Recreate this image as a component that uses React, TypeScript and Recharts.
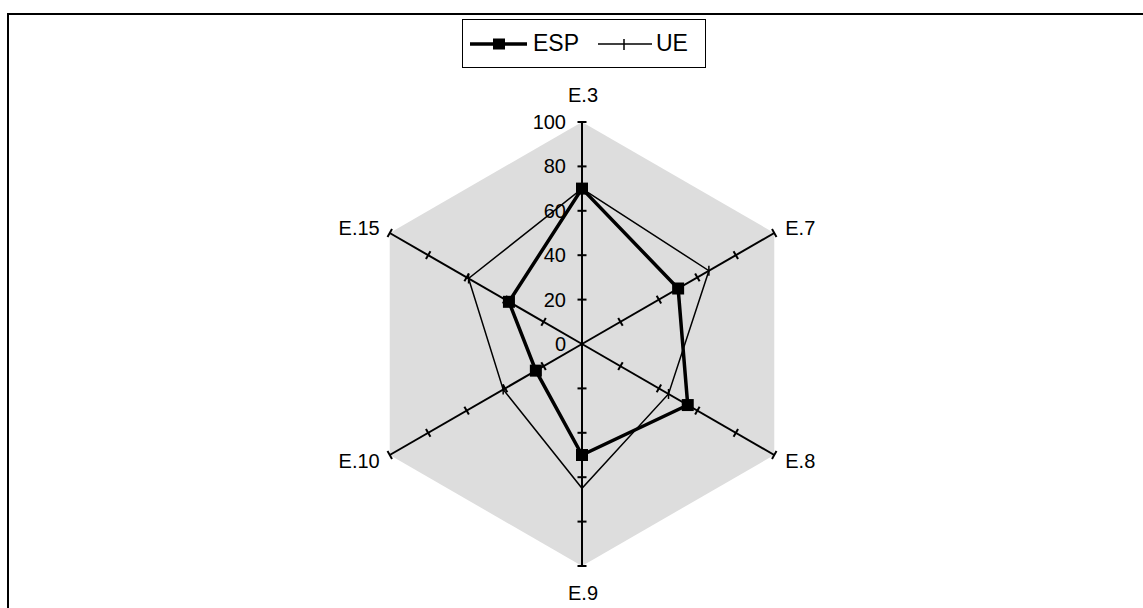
import { Radar, RadarChart, PolarAngleAxis, PolarRadiusAxis } from "recharts";

const categories = ["E.3", "E.7", "E.8", "E.9", "E.10", "E.15"];
const espValues = [70, 50, 55, 50, 24, 38];
const ueValues = [70, 66, 45, 65, 41, 59];
const radiusTicks = [0, 20, 40, 60, 80, 100];
const axisMax = 100;

const FONT = "'Liberation Sans', Arial, sans-serif";
const CX = 582;
const CY = 344;
const R = 222;

const rows = categories.map((cat, i) => ({
  cat,
  esp: espValues[i],
  ue: ueValues[i],
  full: axisMax,
}));

// label offsets from the spoke end, per category (dx, dy, anchor)
const labelPlacement: [number, number, "start" | "middle" | "end"][] = [
  [1, -20, "middle"],
  [11, 2, "start"],
  [11, 13, "start"],
  [1, 34, "middle"],
  [-10, 13, "end"],
  [-10, 2, "end"],
];

function AngleTick(props: any) {
  const i = categories.indexOf(props.payload.value);
  const a = ((90 - 60 * i) * Math.PI) / 180;
  const ex = CX + R * Math.cos(a);
  const ey = CY - R * Math.sin(a);
  const [dx, dy, anchor] = labelPlacement[i];
  return (
    <text x={ex + dx} y={ey + dy} textAnchor={anchor} fontFamily={FONT} fontSize={20} fill="#000">
      {props.payload.value}
    </text>
  );
}

function makeRadiusTick(angle: number, withLabel: boolean) {
  return (props: any) => {
    const { x, y, payload } = props;
    const a = (angle * Math.PI) / 180;
    const px = Math.sin(a) * 4.5;
    const py = Math.cos(a) * 4.5;
    return (
      <g>
        {payload.value !== 0 && (
          <line x1={x - px} y1={y - py} x2={x + px} y2={y + py} stroke="#000" strokeWidth={2} />
        )}
        {withLabel && (
          <text
            x={x - 16}
            y={y}
            textAnchor="end"
            dominantBaseline="central"
            fontFamily={FONT}
            fontSize={20}
            fill="#000"
          >
            {payload.value}
          </text>
        )}
      </g>
    );
  };
}

function SquareDot(props: any) {
  const { cx, cy } = props;
  return <rect x={cx - 6} y={cy - 6} width={12} height={12} fill="#000" />;
}

function DashDot(props: any) {
  const { cx, cy } = props;
  return <line x1={cx} y1={cy - 5} x2={cx} y2={cy + 5} stroke="#000" strokeWidth={1.5} />;
}

function LegendBox() {
  return (
    <div
      style={{
        position: "absolute",
        left: 462,
        top: 19,
        width: 242,
        height: 47,
        border: "1px solid #000",
        background: "#fff",
      }}
    >
      <svg width={242} height={47} style={{ position: "absolute", left: 0, top: 0 }}>
        <line x1={7} y1={24} x2={64} y2={24} stroke="#000" strokeWidth={3.5} />
        <rect x={30} y={18.5} width={12} height={11} fill="#000" />
        <text x={70} y={31} fontFamily={FONT} fontSize={23} fill="#000">ESP</text>
        <line x1={135} y1={24} x2={189} y2={24} stroke="#000" strokeWidth={1.5} />
        <line x1={161} y1={19} x2={161} y2={30} stroke="#000" strokeWidth={1.5} />
        <text x={193} y={31} fontFamily={FONT} fontSize={23} fill="#000">UE</text>
      </svg>
    </div>
  );
}

export default function App() {
  return (
    <div
      style={{
        position: "fixed",
        left: 0,
        top: 0,
        width: 1143,
        height: 608,
        overflow: "hidden",
        background: "#fff",
      }}
    >
      <div
        style={{
          position: "absolute",
          left: 7,
          top: 13,
          width: 1200,
          height: 700,
          border: "2px solid #000",
        }}
      />
      <div style={{ position: "absolute", left: 0, top: 0 }}>
        <RadarChart
          width={1143}
          height={608}
          data={rows}
          cx={CX}
          cy={CY}
          outerRadius={R}
          startAngle={90}
          endAngle={-270}
          margin={{ top: 0, right: 0, bottom: 0, left: 0 }}
        >
          <PolarAngleAxis dataKey="cat" axisLine={false} tickLine={false} tick={AngleTick} />
          {categories.map((cat, i) => (
            <Radar
              key={"bg" + cat}
              dataKey="full"
              radiusAxisId={i}
              stroke="none"
              fill={i === 0 ? "#dddddd" : "none"}
              fillOpacity={i === 0 ? 1 : 0}
              dot={false}
              legendType="none"
              isAnimationActive={false}
            />
          ))}
          {categories.map((cat, i) => {
            const angle = 90 - 60 * i;
            return (
              <PolarRadiusAxis
                key={cat}
                radiusAxisId={i}
                angle={angle}
                type="number"
                domain={[0, axisMax]}
                ticks={radiusTicks}
                tickCount={radiusTicks.length}
                axisLine={{ stroke: "#000", strokeWidth: 2 }}
                tick={makeRadiusTick(angle, i === 0)}
              />
            );
          })}
          <Radar
            dataKey="ue"
            radiusAxisId={0}
            stroke="#000"
            strokeWidth={1.5}
            fill="none"
            fillOpacity={0}
            dot={DashDot}
            isAnimationActive={false}
          />
          <Radar
            dataKey="esp"
            radiusAxisId={0}
            stroke="#000"
            strokeWidth={3.5}
            fill="none"
            fillOpacity={0}
            dot={SquareDot}
            isAnimationActive={false}
          />
        </RadarChart>
      </div>
      <LegendBox />
    </div>
  );
}
